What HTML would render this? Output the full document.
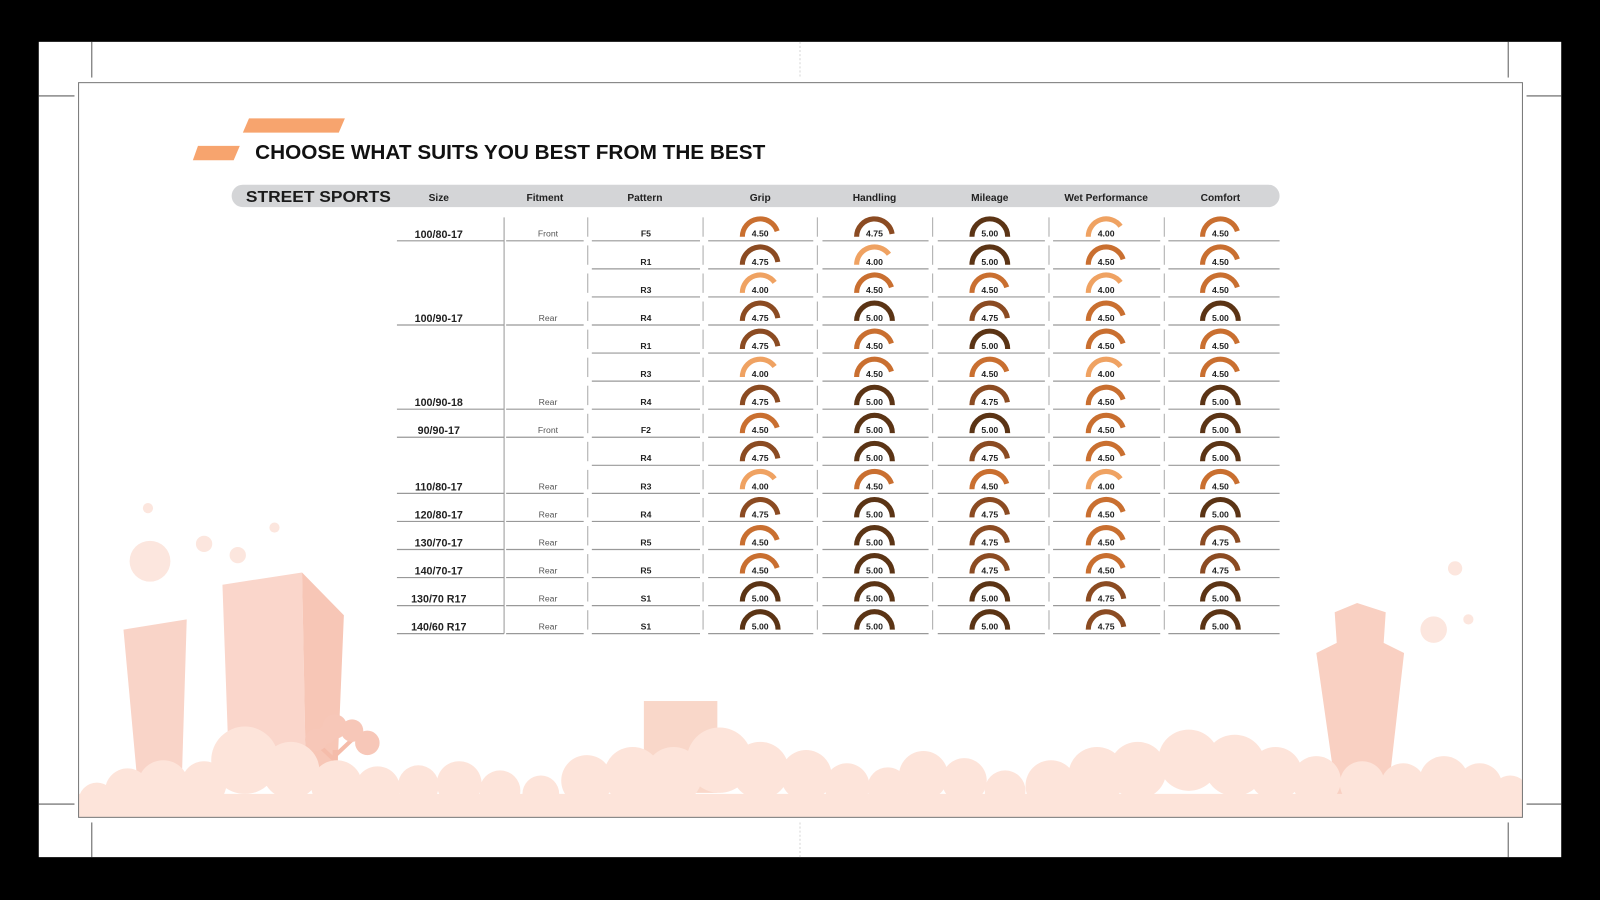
<!DOCTYPE html>
<html><head><meta charset="utf-8"><style>
html,body{margin:0;padding:0;background:#000;}
svg{display:block;}
text{font-family:"Liberation Sans",sans-serif;}
</style></head><body>
<svg id="s" width="1600" height="900" viewBox="0 0 1568 882" xmlns="http://www.w3.org/2000/svg">
<rect x="0" y="0" width="1568" height="882" fill="#000"/>
<rect x="38" y="41" width="1492" height="799" fill="#fff"/>
<g stroke="#333" stroke-width="0.8">
<line x1="90" y1="41" x2="90" y2="76"/><line x1="1478" y1="41" x2="1478" y2="76"/>
<line x1="90" y1="806" x2="90" y2="840"/><line x1="1478" y1="806" x2="1478" y2="840"/>
<line x1="38" y1="94" x2="73" y2="94"/><line x1="1496" y1="94" x2="1530" y2="94"/>
<line x1="38" y1="788" x2="73" y2="788"/><line x1="1496" y1="788" x2="1530" y2="788"/>
</g>
<line x1="784" y1="41" x2="784" y2="76" stroke="#bbb" stroke-dasharray="2,2" stroke-width="0.6"/>
<line x1="784" y1="806" x2="784" y2="840" stroke="#bbb" stroke-dasharray="2,2" stroke-width="0.6"/>
<defs><clipPath id="fc"><rect x="77" y="81" width="1415" height="720"/></clipPath></defs>
<g id="deco" clip-path="url(#fc)"></g>
<rect x="77" y="81" width="1415" height="720" fill="none" stroke="#777" stroke-width="1"/>
<polygon points="244,116 338,116 332,130 238,130" fill="#f7a46e"/>
<polygon points="194,143 235,143 229,157 189,157" fill="#f7a46e"/>
<text x="250" y="156" font-size="19.5" font-weight="bold" fill="#111" textLength="500" lengthAdjust="spacingAndGlyphs">CHOOSE WHAT SUITS YOU BEST FROM THE BEST</text>
<rect x="227" y="181" width="1027" height="22" rx="11" fill="#d4d5d7"/>
<text x="241" y="198" font-size="15" font-weight="bold" fill="#1a1a1a" textLength="142" lengthAdjust="spacingAndGlyphs">STREET SPORTS</text>
<g id="tbl"></g>
</svg>
<script>
const NS="http://www.w3.org/2000/svg";
function el(p,t,a,txt){const e=document.createElementNS(NS,t);for(const k in a)e.setAttribute(k,a[k]);if(txt!==undefined)e.textContent=txt;p.appendChild(e);return e;}
const deco=document.getElementById('deco');
// circles
[[147,550,20],[200,533,8],[233,544,8],[145,498,5],[269,517,5],[1405,617,13],[1426,557,7],[1439,607,5]].forEach(c=>el(deco,'circle',{cx:c[0],cy:c[1],r:c[2],fill:'#fce6de'}));
el(deco,'polygon',{points:'121,617 183,607 178,770 135,770',fill:'#f9d4c8'});
el(deco,'polygon',{points:'218,573 296,561 300,770 225,770',fill:'#fad6cb'});
el(deco,'polygon',{points:'296,561 337,603 330,770 300,770',fill:'#f7c6b6'});
el(deco,'rect',{x:631,y:687,width:72,height:90,fill:'#f9d7c9'});
el(deco,'polygon',{points:'1290,640 1310,630 1308,600 1330,591 1358,600 1356,630 1376,640 1360,780 1310,780',fill:'#f9d0c2'});
// tree
el(deco,'rect',{x:326,y:735,width:5,height:70,fill:'#f5bcaa'});
el(deco,'line',{x1:328,y1:745,x2:312,y2:730,stroke:'#f5bcaa','stroke-width':4});
el(deco,'line',{x1:329,y1:740,x2:345,y2:725,stroke:'#f5bcaa','stroke-width':4});
[[310,725,11],[328,712,12],[345,716,11],[360,728,12],[320,720,9]].forEach(c=>el(deco,'circle',{cx:c[0],cy:c[1],r:c[2],fill:'#f7c7b8'}));
// clouds
const cl='#fde4da';
el(deco,'rect',{x:77,y:778,width:1415,height:30,fill:cl});
const bumps=[[95,785,18],[125,775,22],[160,770,25],[200,768,22],[240,745,33],[285,755,28],[330,770,25],[370,773,22],[410,770,20],[450,768,22],[490,775,20],[530,778,18],[575,765,25],[620,760,28],[660,760,28],[705,745,32],[745,755,28],[790,760,25],[830,770,22],[870,772,20],[905,760,24],[945,765,22],[985,775,20],[1030,770,25],[1075,760,28],[1115,755,28],[1165,745,30],[1210,750,30],[1250,758,26],[1290,765,24],[1335,768,22],[1375,770,22],[1415,765,24],[1450,770,22],[1480,778,18]];
bumps.forEach(c=>el(deco,'circle',{cx:c[0],cy:c[1],r:c[2],fill:cl}));
// table
const T=document.getElementById('tbl');
const heads=[['Size',430],['Fitment',534],['Pattern',632],['Grip',745],['Handling',857],['Mileage',970],['Wet Performance',1084],['Comfort',1196]];
heads.forEach(h=>el(T,'text',{x:h[1],y:197,'font-size':10,'font-weight':'bold','text-anchor':'middle',fill:'#222'},h[0]));
const rows=[
['100/80-17','Front','F5',[4.5,4.75,5,4,4.5]],
['','','R1',[4.75,4,5,4.5,4.5]],
['','','R3',[4,4.5,4.5,4,4.5]],
['100/90-17','Rear','R4',[4.75,5,4.75,4.5,5]],
['','','R1',[4.75,4.5,5,4.5,4.5]],
['','','R3',[4,4.5,4.5,4,4.5]],
['100/90-18','Rear','R4',[4.75,5,4.75,4.5,5]],
['90/90-17','Front','F2',[4.5,5,5,4.5,5]],
['','','R4',[4.75,5,4.75,4.5,5]],
['110/80-17','Rear','R3',[4,4.5,4.5,4,4.5]],
['120/80-17','Rear','R4',[4.75,5,4.75,4.5,5]],
['130/70-17','Rear','R5',[4.5,5,4.75,4.5,4.75]],
['140/70-17','Rear','R5',[4.5,5,4.75,4.5,4.75]],
['130/70 R17','Rear','S1',[5,5,5,4.75,5]],
['140/60 R17','Rear','S1',[5,5,5,4.75,5]]];
const colors={5:'#5b3415',4.75:'#8b4b22',4.5:'#c96f30',4:'#efa262'};
const segs=[[580,686],[694,797],[806,910],[919,1024],[1032,1137],[1145,1254]];
const gx=[745,857,970,1084,1196];
const sepx=[576,689,801,914,1028,1141];
el(T,'line',{x1:494,y1:213,x2:494,y2:621,stroke:'#999','stroke-width':1});
rows.forEach((r,i)=>{
 const b=236+i*27.5;
 segs.forEach(s=>el(T,'line',{x1:s[0],y1:b,x2:s[1],y2:b,stroke:'#999','stroke-width':1.2}));
 sepx.forEach(x=>el(T,'line',{x1:x,y1:b-23,x2:x,y2:b-4,stroke:'#aaa','stroke-width':1}));
 if(r[0]){
  el(T,'line',{x1:389,y1:b,x2:494,y2:b,stroke:'#999','stroke-width':1.2});
  el(T,'line',{x1:496,y1:b,x2:572,y2:b,stroke:'#999','stroke-width':1.2});
  el(T,'text',{x:430,y:b-3,'font-size':10.5,'font-weight':'bold','text-anchor':'middle',fill:'#222'},r[0]);
  el(T,'text',{x:537,y:b-4,'font-size':8.5,'text-anchor':'middle',fill:'#555'},r[1]);
 }
 el(T,'text',{x:633,y:b-4,'font-size':8.5,'font-weight':'bold','text-anchor':'middle',fill:'#222'},r[2]);
 r[3].forEach((v,j)=>{
  const cx=gx[j],cy=b-4,R=17.5;
  const a=Math.PI*(1-v/5);
  const x2=cx+R*Math.cos(a),y2=cy-R*Math.sin(a);
  el(T,'path',{d:`M${cx-R} ${cy} A${R} ${R} 0 0 1 ${x2.toFixed(2)} ${y2.toFixed(2)}`,fill:'none',stroke:colors[v],'stroke-width':5});
  el(T,'text',{x:cx,y:cy,'font-size':8.5,'font-weight':'bold','text-anchor':'middle',fill:'#222'},v.toFixed(2));
 });
});
</script>
</body></html>
